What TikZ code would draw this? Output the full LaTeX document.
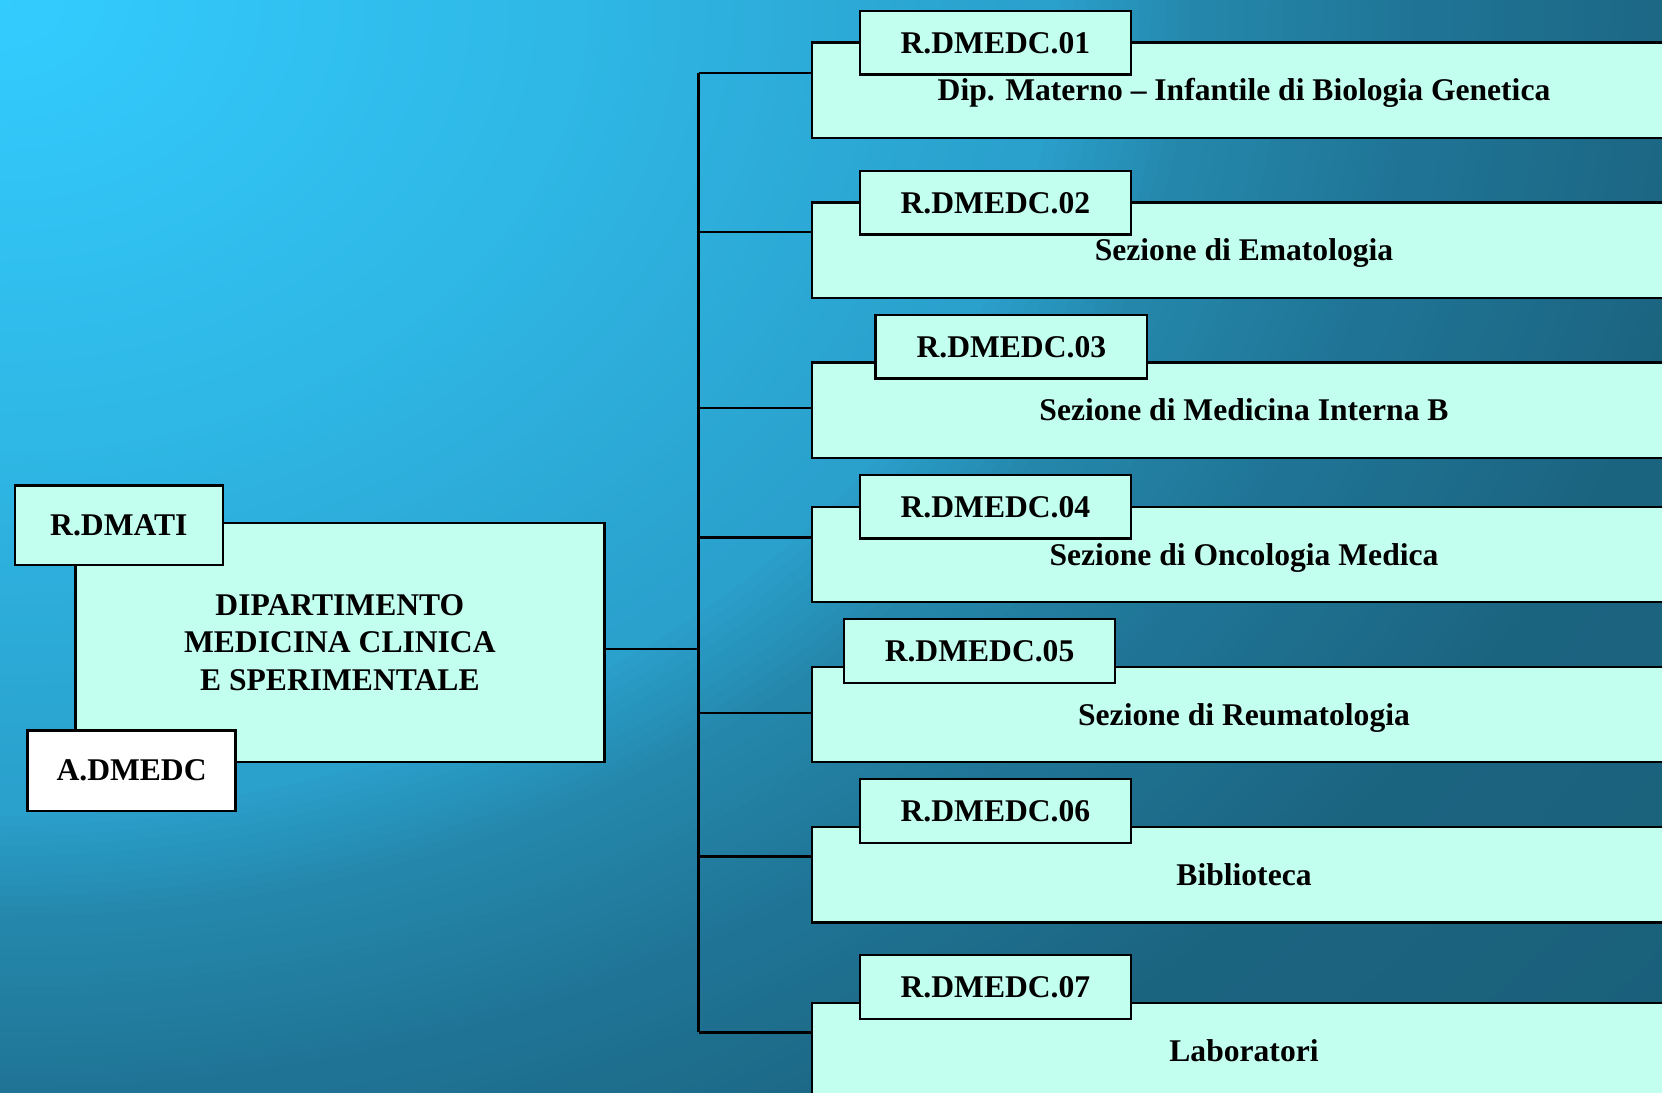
\documentclass[tikz,border=0pt]{standalone}
\usepackage{fontspec}
\setmainfont{Liberation Serif}
\definecolor{mint}{HTML}{C3FFEE}
\definecolor{bg0}{HTML}{33CCFF}
\definecolor{bg1}{HTML}{2FB8E6}
\definecolor{bg2}{HTML}{2AA0CC}
\definecolor{bg3}{HTML}{2486AA}
\definecolor{bg4}{HTML}{1F7394}
\definecolor{bg5}{HTML}{1B6480}
\definecolor{bg6}{HTML}{1A5F7A}
% one ring of the glow: bands of ellipses around the upper left corner,
% #1 outer step, #2 inner step, #3 outer colour, #4 inner colour
\newcommand\glowring[4]{%
  \foreach \k in {#1,...,#2}{%
    \pgfmathtruncatemacro\p{100*(\k-#2)/(#1-#2)}%
    \fill[#3!\p!#4] (0,0) ellipse [x radius=\k*12.35, y radius=\k*9.5];
  }}
\begin{document}
\begin{tikzpicture}[x=0.53pt,y=-0.53pt,
  txt/.style={font=\fontsize{15.8}{18.8}\selectfont\bfseries, align=center},
  card/.style={txt, draw=black, line width=1.2pt, fill=mint, inner sep=0pt, anchor=north west},
  tag/.style={card, minimum width=135.68pt, minimum height=31.8pt, text height=10.5pt, text depth=0pt},
  unit/.style={card, minimum width=431.95pt, minimum height=47.7pt, text height=10.5pt, text depth=0pt},
  link/.style={draw=black, line width=1.1pt}]
\useasboundingbox (0,0) rectangle (1568,1031);
\begin{scope}
\clip (0,0) rectangle (1568,1031);
% background glow from the upper left corner
\fill[bg6] (0,0) rectangle (1568,1031);
\glowring{170}{133}{bg6}{bg5}
\glowring{132}{111}{bg5}{bg4}
\glowring{110}{93}{bg4}{bg3}
\glowring{92}{81}{bg3}{bg2}
\glowring{80}{43}{bg2}{bg1}
\glowring{42}{1}{bg1}{bg0}

% department block
\node[card, minimum width=264.47pt, minimum height=119.78pt] (dept) at (70,492)
  {DIPARTIMENTO\\MEDICINA CLINICA\\E SPERIMENTALE};
\node[card, minimum width=103.88pt, minimum height=39.75pt] (rdmati) at (13,457) {R.DMATI};
\node[card, fill=white, minimum width=103.88pt, minimum height=40.28pt] (admedc) at (25,688) {A.DMEDC};

% trunk coordinates
\coordinate (m)  at (659,612);
\coordinate (t1) at (659,69);
\coordinate (t2) at (659,219);
\coordinate (t3) at (659,385);
\coordinate (t4) at (659,507);
\coordinate (t5) at (659,673);
\coordinate (t6) at (659,808);
\coordinate (t7) at (659,974);

% section boxes
\node[unit] (u1) at (765,39)  {Dip. Materno – Infantile di Biologia Genetica};
\node[unit] (u2) at (765,190) {Sezione di Ematologia};
\node[unit] (u3) at (765,341) {Sezione di Medicina Interna B};
\node[unit] (u4) at (765,477) {Sezione di Oncologia Medica};
\node[unit] (u5) at (765,628) {Sezione di Reumatologia};
\node[unit] (u6) at (765,779) {Biblioteca};
\node[unit] (u7) at (765,945) {Laboratori};

% code tags
\node[tag] (r1) at (810,9)   {R.DMEDC.01};
\node[tag] (r2) at (810,160) {R.DMEDC.02};
\node[tag] (r3) at (825,296) {R.DMEDC.03};
\node[tag] (r4) at (810,447) {R.DMEDC.04};
\node[tag] (r5) at (795,583) {R.DMEDC.05};
\node[tag] (r6) at (810,734) {R.DMEDC.06};
\node[tag] (r7) at (810,900) {R.DMEDC.07};

% connectors
\draw[link] (m -| dept.east) -- (m);
\draw[link] (t1) -- (t7);
\foreach \i in {1,...,7}{
  \draw[link] (t\i) -- (t\i -| u\i.west);
}
\end{scope}
\end{tikzpicture}
\end{document}
